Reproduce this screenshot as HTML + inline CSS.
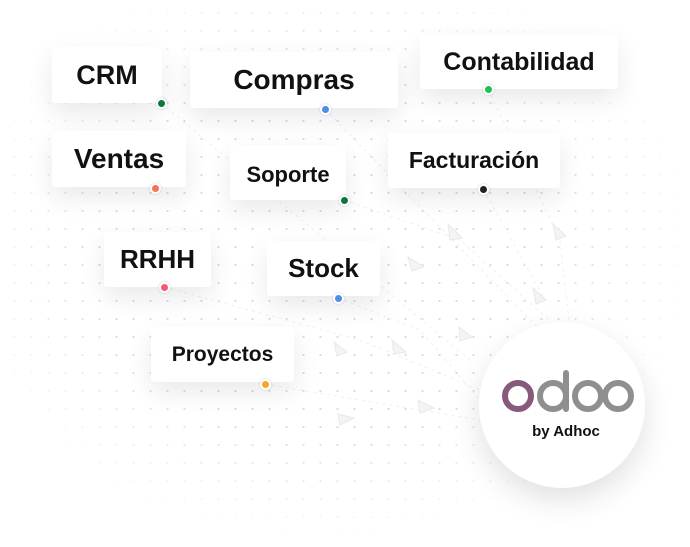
<!DOCTYPE html>
<html><head><meta charset="utf-8"><style>
html,body{margin:0;padding:0;background:#fff;}
#c{position:relative;width:690px;height:547px;overflow:hidden;background:#fff;font-family:"Liberation Sans",sans-serif;}
#grid{position:absolute;left:0;top:0;width:690px;height:547px;
background-image:radial-gradient(circle,#dcdce0 1px,transparent 1.3px);background-size:17px 18px;background-position:6px 4px;
-webkit-mask-image:radial-gradient(ellipse 380px 300px at 330px 250px,#000 60%,transparent 100%);
mask-image:radial-gradient(ellipse 380px 300px at 330px 250px,#000 60%,transparent 100%);}
.b{position:absolute;background:#fff;border-radius:3px;box-shadow:0 10px 26px rgba(0,0,0,0.09);display:flex;align-items:center;justify-content:center;font-weight:bold;color:#111;}
.d{position:absolute;width:7px;height:7px;border-radius:50%;border:2px solid #fff;box-shadow:0 0 2px rgba(0,0,0,.2);}
#circ{position:absolute;left:479px;top:322px;width:166px;height:166px;border-radius:50%;background:#fff;box-shadow:0 12px 30px rgba(0,0,0,0.12);}
</style></head><body><div id="c">
<div id="grid"></div>
<svg width="690" height="547" style="position:absolute;left:0;top:0" fill="none" stroke="#efeff2" stroke-width="1" stroke-dasharray="3 4">
<path d="M161 103 L470 360"/><path d="M325 109 L540 330"/><path d="M488 89 L560 240 L570 330"/><path d="M344 200 L460 240 L560 330"/>
<path d="M483 189 L545 300"/><path d="M164 287 L360 340 L480 390"/><path d="M338 298 L420 330 L480 400"/><path d="M265 384 L420 410 L480 420"/>
<g fill="#f4f4f6" stroke="#e8e8ec" stroke-dasharray="none">
<path d="M448 224 L462 238 L450 240 Z"/><path d="M553 224 L566 236 L556 240 Z"/><path d="M408 257 L424 267 L412 271 Z"/>
<path d="M533 288 L546 300 L536 304 Z"/><path d="M459 327 L472 337 L460 341 Z"/><path d="M392 340 L406 352 L394 354 Z"/>
<path d="M334 342 L347 352 L337 356 Z"/><path d="M418 400 L434 408 L420 413 Z"/><path d="M338 414 L354 418 L340 425 Z"/>
</g></svg>
<div class="b" style="left:52px;top:47px;width:110px;height:56px;font-size:27px">CRM</div>
<div class="b" style="left:190px;top:52px;width:208px;height:56px;font-size:28px">Compras</div>
<div class="b" style="left:420px;top:35px;width:198px;height:54px;font-size:25px">Contabilidad</div>
<div class="b" style="left:52px;top:131px;width:134px;height:56px;font-size:28px">Ventas</div>
<div class="b" style="left:230px;top:145px;width:116px;height:55px;font-size:22px;padding-top:4px;box-sizing:border-box">Soporte</div>
<div class="b" style="left:388px;top:133px;width:172px;height:55px;font-size:23px">Facturación</div>
<div class="b" style="left:104px;top:232px;width:107px;height:55px;font-size:26px">RRHH</div>
<div class="b" style="left:267px;top:241px;width:113px;height:55px;font-size:26px">Stock</div>
<div class="b" style="left:151px;top:327px;width:143px;height:55px;font-size:21px">Proyectos</div>
<div class="d" style="left:156px;top:98px;background:#0a7a3c"></div>
<div class="d" style="left:320px;top:104px;background:#4a8fe8"></div>
<div class="d" style="left:483px;top:84px;background:#19c35a"></div>
<div class="d" style="left:150px;top:183px;background:#f5735a"></div>
<div class="d" style="left:339px;top:195px;background:#0a7a3c"></div>
<div class="d" style="left:478px;top:184px;background:#222"></div>
<div class="d" style="left:159px;top:282px;background:#f25a78"></div>
<div class="d" style="left:333px;top:293px;background:#4a8fe8"></div>
<div class="d" style="left:260px;top:379px;background:#f5a623"></div>
<div id="circ"></div>
<svg width="690" height="547" style="position:absolute;left:0;top:0">
<circle cx="518" cy="396" r="13" fill="none" stroke="#875a7b" stroke-width="6"/>
<circle cx="553" cy="396" r="13" fill="none" stroke="#8f8f8f" stroke-width="6"/>
<line x1="566" y1="373" x2="566" y2="409" stroke="#8f8f8f" stroke-width="6" stroke-linecap="round"/>
<circle cx="588" cy="396" r="13" fill="none" stroke="#8f8f8f" stroke-width="6"/>
<circle cx="618" cy="396" r="13" fill="none" stroke="#8f8f8f" stroke-width="6"/>
<text x="566" y="436" text-anchor="middle" font-family="Liberation Sans,sans-serif" font-weight="bold" font-size="15" fill="#111">by Adhoc</text>
</svg>
</div></body></html>
